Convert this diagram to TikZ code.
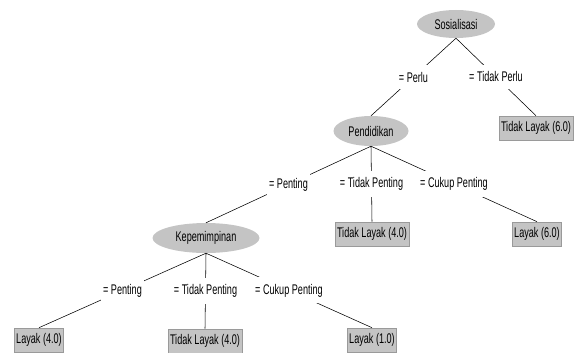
\documentclass[tikz,border=0pt]{standalone}
\usepackage{fontspec}
\setmainfont{Liberation Sans}[FakeStretch=0.65]
\usepackage{tikz}
\usetikzlibrary{positioning, shapes.geometric}
\definecolor{wekaGray}{HTML}{C4C4C4}
\definecolor{wekaEdge}{HTML}{9A9A9A}
\tikzstyle{treefont} =[font=\fontsize{14}{16}\selectfont]
\tikzstyle{attrnode} =[treefont, ellipse, fill=wekaGray, inner sep=0pt, minimum height=30pt]
\tikzstyle{leafnode} =[treefont, rectangle, fill=wekaGray, draw=wekaEdge, line width=0.6pt, inner xsep=2pt, inner ysep=0pt, minimum height=24pt]
\tikzstyle{branchlabel} =[treefont, fill=white, inner xsep=2pt, inner ysep=6.5pt]

\begin{document}
\begin{tikzpicture}[x=1pt, y=-1pt]
\useasboundingbox (0,0) rectangle (579,353);

\node (sos) [attrnode, minimum width=78pt, minimum height=28pt] at (456,24) {Sosialisasi};

\node (pend) [attrnode, minimum width=75pt] at (371,131) {Pendidikan};
\node (tlayakSix) [leafnode] at (536,128) {Tidak Layak (6.0)};

\node (kep) [attrnode, minimum width=107pt] at (206,238) {Kepemimpinan};
\node (tlayakFourA) [leafnode] at (372,234) {Tidak Layak (4.0)};
\node (layakSix) [leafnode] at (537,234) {Layak (6.0)};

\node (layakFour) [leafnode] at (39,340) {Layak (4.0)};
\node (tlayakFourB) [leafnode] at (205,341) {Tidak Layak (4.0)};
\node (layakOne) [leafnode] at (372,340) {Layak (1.0)};

\draw[line width=0.55pt, black]
	(sos.south) -- node[branchlabel] {= Perlu} (pend.north);

\draw[line width=0.55pt, black]
	(sos.south) -- node[branchlabel] {= Tidak Perlu} (tlayakSix.north);

\draw[line width=0.55pt, black]
	(pend.south) -- node[branchlabel] {= Penting} (kep.north);

\draw[line width=0.55pt, black]
	(pend.south) -- node[branchlabel] {= Tidak Penting} (tlayakFourA.north);

\draw[line width=0.55pt, black]
	(pend.south) -- node[branchlabel] {= Cukup Penting} (layakSix.north);

\draw[line width=0.55pt, black]
	(kep.south) -- node[branchlabel] {= Penting} (layakFour.north);

\draw[line width=0.55pt, black]
	(kep.south) -- node[branchlabel] {= Tidak Penting} (tlayakFourB.north);

\draw[line width=0.55pt, black]
	(kep.south) -- node[branchlabel] {= Cukup Penting} (layakOne.north);
\end{tikzpicture}
\end{document}
